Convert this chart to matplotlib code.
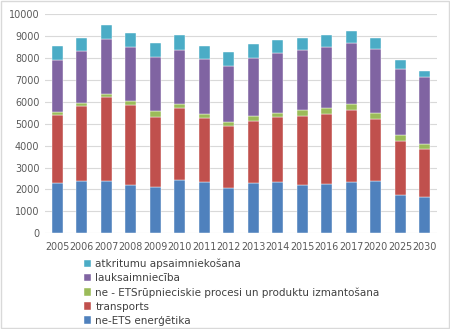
import matplotlib.pyplot as plt
import numpy as np

years = ['2005', '2006', '2007', '2008', '2009', '2010', '2011', '2012',
         '2013', '2014', '2015', '2016', '2017', '2020', '2025', '2030']

# segment values
energetika = [2310, 2390, 2370, 2220, 2130, 2450, 2360, 2070, 2300, 2330, 2210, 2270, 2330, 2390, 1750, 1670]
transports = [3090, 3410, 3870, 3640, 3200, 3260, 2910, 2820, 2840, 2970, 3160, 3160, 3320, 2850, 2480, 2200]
rupnieciba = [130, 140, 140, 180, 260, 210, 180, 190, 230, 210, 250, 280, 270, 270, 280, 220]
lauksaimn = [2400, 2390, 2480, 2450, 2450, 2470, 2500, 2580, 2650, 2720, 2770, 2780, 2770, 2910, 2980, 3030]
atkritumi = [620, 600, 640, 640, 650, 650, 620, 600, 610, 600, 540, 580, 560, 510, 410, 310]

series = [
    ('ne-ETS enerģētika', energetika, '#4F81BD'),
    ('transports', transports, '#C0504D'),
    ('ne - ETSrūpnieciskie procesi un produktu izmantošana', rupnieciba, '#9BBB59'),
    ('lauksaimniecība', lauksaimn, '#8064A2'),
    ('atkritumu apsaimniekošana', atkritumi, '#4BACC6'),
]

plt.rcParams['font.family'] = ['DejaVu Sans']
fig = plt.figure(figsize=(4.5, 3.29), dpi=100)
ax = fig.add_axes([0.1, 0.291, 0.871, 0.6655])

x = np.arange(len(years))
bottom = np.zeros(len(years))
handles = []
for name, vals, color in series:
    b = ax.bar(x, vals, width=0.44, bottom=bottom, color=color,
               edgecolor='white', linewidth=0.3, label=name, zorder=3)
    handles.append(b)
    bottom = bottom + np.array(vals)

ax.set_xlim(-0.5, len(years) - 0.5)
ax.set_ylim(0, 10000)
ax.set_yticks(range(0, 10001, 1000))
ax.set_xticks(x)
ax.set_xticklabels(years)
ax.tick_params(axis='both', length=0, labelsize=6.9, colors='#595959', pad=4)
ax.tick_params(axis='x', pad=6)
ax.grid(axis='y', color='#D9D9D9', linewidth=0.8, zorder=0)
for s in ax.spines.values():
    s.set_visible(False)

fig.legend(handles[::-1], [s[0] for s in series][::-1],
           loc='upper left', bbox_to_anchor=(0.177, 0.226), frameon=False,
           fontsize=7.5, handlelength=0.7, handleheight=0.7,
           handletextpad=0.4, labelspacing=0.38, borderaxespad=0,
           labelcolor='#404040')

fig.patches.append(plt.Rectangle((0.002, 0.003), 0.996, 0.994, transform=fig.transFigure,
                                 fill=False, edgecolor='#D9D9D9', linewidth=1))
fig.savefig('out.png', dpi=100)
